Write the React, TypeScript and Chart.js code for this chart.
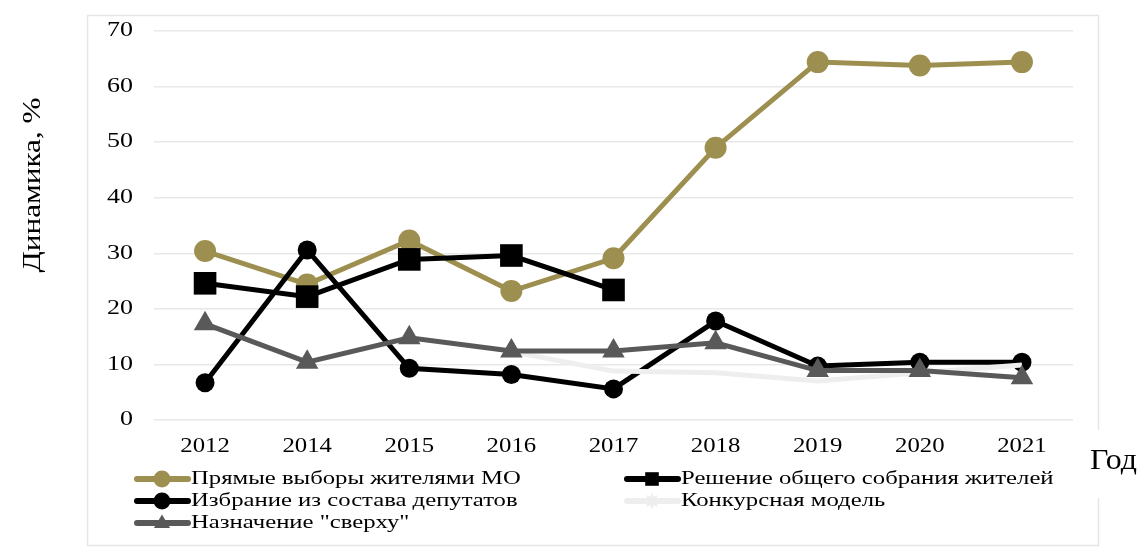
import React, { useEffect, useRef } from "react";
import { Chart, registerables } from "chart.js";

Chart.register(...registerables);

const years = ["2012", "2014", "2015", "2016", "2017", "2018", "2019", "2020", "2021"];
const direct = [30.4, 24.4, 32.3, 23.2, 29.1, 49.0, 64.4, 63.8, 64.4];
const assembly = [24.6, 22.2, 28.9, 29.6, 23.4, null, null, null, null];
const deputies = [6.7, 30.6, 9.3, 8.2, 5.6, 17.8, 9.7, 10.4, 10.4];
const competitive = [null, null, null, 12.3, 8.8, 8.5, 7.0, 8.5, 9.9];
const appointed = [17.3, 10.4, 14.8, 12.4, 12.4, 13.9, 8.9, 8.9, 7.6];
const yTicks = [0, 10, 20, 30, 40, 50, 60, 70];

const seriesNames = [
  "Прямые выборы жителями МО",
  "Решение общего собрания жителей",
  "Избрание из состава депутатов",
  "Конкурсная модель",
  'Назначение "сверху"',
];

const FONT = "'Liberation Serif', 'Times New Roman', serif";

function sText(ctx: CanvasRenderingContext2D, text: string, x: number, y: number, size: number, sx: number, align: CanvasTextAlign) {
  ctx.save();
  ctx.font = `${size}px ${FONT}`;
  ctx.translate(x, y);
  ctx.scale(sx, 1);
  ctx.textAlign = align;
  ctx.textBaseline = "middle";
  ctx.fillStyle = "#000";
  ctx.fillText(text, 0, 0);
  ctx.restore();
}

function marker(ctx: CanvasRenderingContext2D, style: string, x: number, y: number, r: number) {
  ctx.beginPath();
  if (style === "circle") {
    ctx.arc(x, y, r, 0, Math.PI * 2);
  } else if (style === "rect") {
    ctx.rect(x - r * 0.8, y - r * 0.8, r * 1.6, r * 1.6);
  } else if (style === "triangle") {
    ctx.moveTo(x, y - r);
    ctx.lineTo(x + r * 0.95, y + r * 0.6);
    ctx.lineTo(x - r * 0.95, y + r * 0.6);
    ctx.closePath();
  } else {
    for (let k = 0; k < 16; k++) {
      const a = (k * Math.PI) / 8;
      const rr = k % 2 === 0 ? r : r * 0.55;
      const px = x + Math.sin(a) * rr;
      const py = y - Math.cos(a) * rr;
      if (k === 0) ctx.moveTo(px, py);
      else ctx.lineTo(px, py);
    }
    ctx.closePath();
  }
  ctx.fill();
}

const framePlugin = {
  id: "frameAndTitles",
  beforeDraw(chart: any) {
    const ctx = chart.ctx;
    ctx.save();
    ctx.strokeStyle = "#e6e6e6";
    ctx.lineWidth = 1.5;
    ctx.strokeRect(87.5, 15.5, 1011, 530);
    ctx.restore();
  },
  afterDraw(chart: any) {
    const ctx = chart.ctx;
    const xs = chart.scales.x;
    const ys = chart.scales.y;
    xs.ticks.forEach((t: any, i: number) => {
      sText(ctx, xs.getLabelForValue(t.value), xs.getPixelForTick(i), 446, 21, 1.18, "center");
    });
    ys.ticks.forEach((t: any, i: number) => {
      sText(ctx, String(t.value), 133, ys.getPixelForTick(i), 20, 1.3, "right");
    });

    ctx.save();
    ctx.font = `26px ${FONT}`;
    ctx.translate(33, 185);
    ctx.rotate(-Math.PI / 2);
    ctx.scale(1.2, 1);
    const tw = ctx.measureText("Динамика, %").width;
    ctx.fillStyle = "#fff";
    ctx.fillRect(-tw / 2 - 18, -18, tw + 36, 36);
    ctx.fillStyle = "#000";
    ctx.textAlign = "center";
    ctx.textBaseline = "middle";
    ctx.fillText("Динамика, %", 0, 0);
    ctx.restore();

    ctx.save();
    ctx.fillStyle = "#fff";
    ctx.fillRect(1086, 430, 57, 68);
    ctx.restore();
    sText(ctx, "Год", 1090, 461, 29, 1.1, "left");

    const cols = [135, 625];
    const rows = [479, 501, 523];
    chart.data.datasets.forEach((ds: any, i: number) => {
      const x = cols[i % 2];
      const y = rows[Math.floor(i / 2)];
      ctx.save();
      ctx.strokeStyle = ds.borderColor;
      ctx.lineWidth = 6;
      ctx.lineCap = "round";
      ctx.beginPath();
      ctx.moveTo(x + 2, y);
      ctx.lineTo(x + 53, y);
      ctx.stroke();
      ctx.fillStyle = ds.pointBackgroundColor;
      marker(ctx, ds.pointStyle, x + 27, y, 8.5);
      ctx.restore();
      sText(ctx, ds.label, x + 56, y, 19, 1.3, "left");
    });
  },
};

export default function App() {
  const ref = useRef<HTMLCanvasElement>(null);
  useEffect(() => {
    if (!ref.current) return;
    const mk = (i: number, data: (number | null)[], color: string, style: string, r: number) => ({
      label: seriesNames[i],
      data,
      order: 10 - i,
      borderColor: color,
      backgroundColor: color,
      pointBackgroundColor: color,
      pointBorderColor: color,
      pointStyle: style,
      pointRadius: r,
      pointBorderWidth: 0,
      borderWidth: 5,
      spanGaps: false,
      tension: 0,
    });
    const chart = new Chart(ref.current, {
      type: "line",
      data: {
        labels: years,
        datasets: [
          mk(0, direct, "#9d8f4f", "circle", 11),
          mk(1, assembly, "#000000", "rect", 16),
          mk(2, deputies, "#000000", "circle", 9.5),
          mk(3, competitive, "#eeeeee", "star", 10),
          mk(4, appointed, "#595959", "triangle", 13),
        ],
      },
      options: {
        responsive: false,
        animation: false,
        events: [],
        layout: { padding: { left: 0, right: 70, top: 31, bottom: 0 } },
        plugins: { legend: { display: false }, tooltip: { enabled: false } },
        scales: {
          x: {
            offset: true,
            grid: { display: false, drawTicks: false },
            border: { display: false },
            ticks: { display: false },
            afterFit: (s: any) => { s.height = 128; },
          },
          y: {
            min: 0,
            max: 70,
            grid: { color: "#e8e8e8", lineWidth: 1.5, drawTicks: false },
            border: { display: false },
            afterBuildTicks: (s: any) => { s.ticks = yTicks.map((v) => ({ value: v })); },
            ticks: { display: false },
            afterFit: (s: any) => { s.width = 154; },
          },
        },
      },
      plugins: [framePlugin],
    });
    return () => chart.destroy();
  }, []);
  return (
    <div style={{ position: "fixed", left: 0, top: 0, width: 1143, height: 548, background: "#fff" }}>
      <canvas ref={ref} width={1143} height={548} style={{ display: "block" }} />
    </div>
  );
}
